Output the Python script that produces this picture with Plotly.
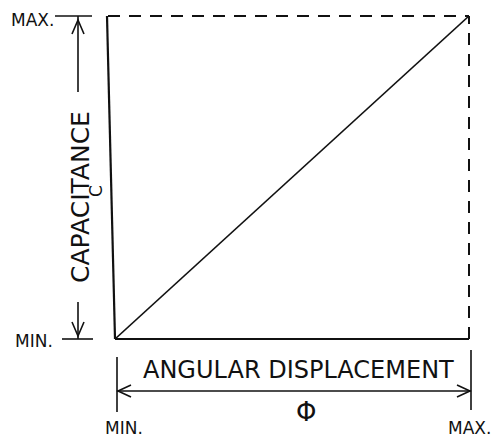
import plotly.graph_objects as go

# ---- data (normalised: MIN = 0, MAX = 1) ----
phi = [0, 1]
capacitance = [0, 1]
end_labels = ["MIN.", "MAX."]
x_title = "ANGULAR DISPLACEMENT"
y_title = "CAPACITANCE"
x_symbol = "Φ"
y_symbol = "C"

# page has an 8px body margin; figure is sized to fit the 501x443 window
PAGE_OFF = 8
W, H = 501 - PAGE_OFF, 443 - PAGE_OFF
PLOT_L, PLOT_R, PLOT_T, PLOT_B = 115, 469, 16, 339   # window pixels of plot area
pw = PLOT_R - PLOT_L
ph = PLOT_B - PLOT_T


def X(px):
    return (px - PLOT_L) / pw


def Y(py):
    return (PLOT_B - py) / ph


FONT = "DejaVu Sans"
INK = "#111111"

fig = go.Figure()
fig.add_trace(go.Scatter(x=phi, y=capacitance, mode="lines",
                         line=dict(color=INK, width=1.6),
                         hoverinfo="skip", showlegend=False, cliponaxis=False))

shapes = []


def seg(x0, y0, x1, y1, w=1.6, dash="solid"):
    shapes.append(dict(type="line", xref="paper", yref="paper",
                       x0=x0, y0=y0, x1=x1, y1=y1,
                       line=dict(color=INK, width=w, dash=dash)))


def vee(tx, ty, ax, ay, bx, by, w=1.6):
    shapes.append(dict(type="path", xref="paper", yref="paper",
                       path=f"M {ax},{ay} L {tx},{ty} L {bx},{by}",
                       line=dict(color=INK, width=w)))


xmin, xmax = phi[0], phi[-1]
ymin, ymax = capacitance[0], capacitance[-1]

# frame
seg(xmin, ymin, xmax, ymin, w=2.2)
seg(X(107), ymax, xmin, ymin, w=2.2)
seg(X(108), ymax, xmax, ymax, w=2, dash="12px,9px")
seg(xmax, ymin, xmax, ymax, w=2, dash="12px,9px")

# vertical dimension line (capacitance)
dx = X(78)
seg(dx, ymax, dx, Y(92))
seg(dx, Y(302), dx, ymin)
seg(X(55), ymax, X(92), ymax)
seg(X(62), ymin, X(93), ymin)
vee(dx, Y(20), X(72), Y(34), X(84), Y(34))
vee(dx, Y(336), X(72), Y(322), X(84), Y(322))

# horizontal dimension line (angular displacement)
dy = Y(391)
seg(X(117), dy, X(471), dy)
seg(X(117), Y(357), X(117), Y(412))
seg(X(471), Y(350), X(471), Y(410))
vee(X(118), dy, X(131), Y(385), X(131), Y(397))
vee(X(470), dy, X(457), Y(385), X(457), Y(397))

anns = []


def txt(t, x, y, size, angle=0):
    anns.append(dict(text=t, x=x, y=y, xref="paper", yref="paper",
                     showarrow=False, xanchor="center", yanchor="middle",
                     textangle=angle, font=dict(family=FONT, size=size, color=INK)))


txt(end_labels[1], X(32), Y(20), 17)
txt(end_labels[0], X(34), Y(341), 17)
txt(y_title, X(80), Y(197), 25, -90)
txt(y_symbol, X(96), Y(191), 17, -90)
txt(x_title, X(298), Y(370), 24)
txt(x_symbol, X(306), Y(412), 26)
txt(end_labels[0], X(124), Y(428), 17)
txt(end_labels[1], X(470), Y(428), 17)

fig.update_layout(
    width=W, height=H,
    margin=dict(l=PLOT_L - PAGE_OFF, r=501 - PLOT_R, t=PLOT_T - PAGE_OFF, b=443 - PLOT_B),
    paper_bgcolor="white", plot_bgcolor="white",
    xaxis=dict(range=[xmin, xmax], visible=False, fixedrange=True),
    yaxis=dict(range=[ymin, ymax], visible=False, fixedrange=True),
    shapes=shapes, annotations=anns, showlegend=False,
)

fig.write_html("out.html")
